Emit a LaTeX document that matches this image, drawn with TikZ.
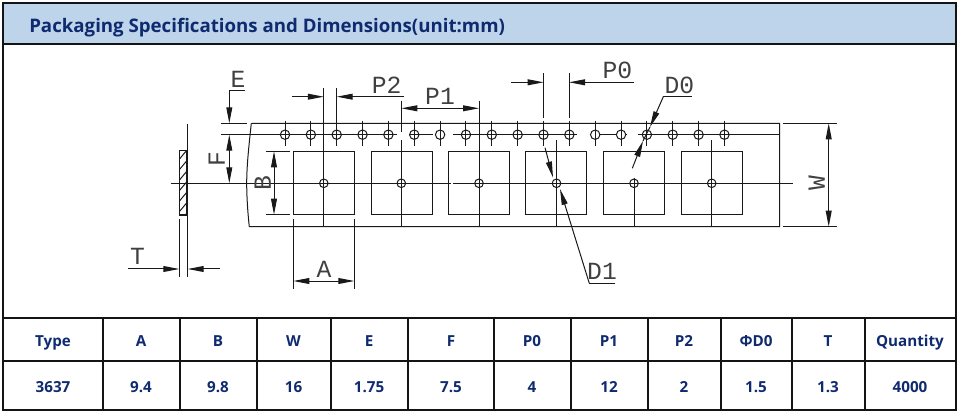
\documentclass[tikz,border=0pt]{standalone}
\usepackage{fontspec}
\setmainfont{Open Sans}
\newfontfamily\cadfont{Liberation Mono}
\usetikzlibrary{arrows.meta}
\definecolor{navy}{HTML}{0F2A6E}
\definecolor{headblue}{HTML}{BDD4EB}
\definecolor{frameblk}{HTML}{141414}
\tikzset{
  frameline/.style={draw=frameblk,line width=1.5pt},
  cell/.style={font=\bfseries\fontsize{11.4pt}{13pt}\selectfont,text=navy,anchor=base,inner sep=0pt},
  cad/.style={line width=0.75pt,draw=black!90},
  dimtip/.style={cad,-{Triangle[length=12pt,width=4.4pt]}},
  dimboth/.style={cad,{Triangle[length=12pt,width=4.4pt]}-{Triangle[length=12pt,width=4.4pt]}},
  cadtext/.style={font=\cadfont\fontsize{18.5pt}{18.5pt}\selectfont,text=black!75,inner sep=0pt,anchor=center},
}
\begin{document}
\begin{tikzpicture}[x=0.75pt,y=-0.75pt]
\useasboundingbox (0,0) rectangle (962,416);
% frame and header
\fill[headblue] (3,3.5) rectangle (955.5,44.5);
\draw[frameline] (3,3.5) rectangle (955.5,410);
\draw[frameline] (3,44.5) -- (955.5,44.5);
\node[font=\bfseries\fontsize{14pt}{16pt}\selectfont,text=navy,anchor=base west,inner sep=0pt] (title) at (29,32.5) {Packaging Specifications and Dimensions(unit:mm)};
% table
\draw[frameline] (3,318) -- (955.5,318) (3,361) -- (955.5,361);
\foreach \x in {102.5,179.5,256.5,330.5,408,494,570.5,647.5,720.5,792,864.5}
  \draw[frameline] (\x,318) -- (\x,410);
\foreach \cx/\nm/\top/\bot in {53/a/Type/3637,141/b/A/9.4,218/c/B/9.8,293.5/d/W/16,369/e/E/1.75,451/f/F/7.5,532/g/P0/4,609/h/P1/12,684/i/P2/2,756/j/ΦD0/1.5,828/k/T/1.3,910/l/Quantity/4000}{
  \node[cell] (top\nm) at (\cx,346) {\top};
  \node[cell] (bot\nm) at (\cx,392) {\bot};
}
% tape
\draw[cad] (251.3,123.3) -- (779.7,123.3) -- (779.7,226.7) -- (249.3,226.7)
  .. controls (247.5,210) and (246.7,195) .. (246.7,183.3)
  .. controls (246.7,165) and (249,145) .. (251.3,123.3);
% sprocket line
\draw[cad] (221,134.7) -- (396.7,134.7) (410,134.7) -- (433,134.7) (453,134.7) -- (577,134.7) (600,134.7) -- (627,134.7) (638,134.7) -- (779.7,134.7);
\draw[cad] (221,123.3) -- (247.3,123.3);
\foreach \k in {0,...,17}{
  \pgfmathsetmacro\hx{285+25.85*\k}
  \draw[cad,fill=white] (\hx,134.7) circle[radius=4.7];
  \draw[cad] (\hx,121) -- (\hx,146);
}
\draw[cad] (280,134.7) -- (290,134.7) (306.5,134.7) -- (316,134.7) (332,134.7) -- (341.5,134.7) (358,134.7) -- (368,134.7) (383.5,134.7) -- (393,134.7) (410,134.7) -- (419,134.7) (461,134.7) -- (471,134.7) (487,134.7) -- (497,134.7) (513,134.7) -- (523,134.7) (539,134.7) -- (549,134.7) (564,134.7) -- (574,134.7) (642,134.7) -- (652,134.7) (668,134.7) -- (678,134.7) (694,134.7) -- (704,134.7) (720,134.7) -- (730,134.7);
% pockets
\foreach \px in {293.3,371,448.7,525.7,603.3,681}
  \draw[cad] (\px,151.3) rectangle ++(61,63.4);
% centre lines
\draw[cad] (170.7,183.3) -- (450.5,183.3) (453,183.3) -- (793,183.3);
\draw[cad] (323.8,88) -- (323.8,226.7);
\draw[cad] (401.3,100.7) -- (401.3,131.7) (401.3,140) -- (401.3,226.7);
\draw[cad] (479,100.7) -- (479,226.7);
\draw[cad] (556.5,140) -- (556.5,226.7);
\draw[cad] (634,178) -- (634,226.7);
\draw[cad] (711.7,140) -- (711.7,226.7);
\foreach \cx in {323.8,401.3,479,556.5,634,711.7}{
  \draw[cad,fill=white] (\cx,183.3) circle[radius=4.3];
  \draw[cad] (\cx-4.3,183.3) -- (\cx+4.3,183.3) (\cx,179) -- (\cx,187.6);
}
% section
\draw[cad,line width=1.2pt] (187.3,124) -- (187.3,226.7);
\draw[cad,line width=1.2pt] (179.5,150.7) rectangle (187,215.3);
\begin{scope}
\clip (179.5,150.7) rectangle (187,215.3);
\foreach \hy in {159,169.5,180,190.5,201,211.5,222}
  \draw[cad] (179.5,\hy) -- (187,\hy-9);
\end{scope}
% T
\coordinate (tl) at (179.3,269); \coordinate (tr) at (187.7,269);
\coordinate (tlo) at (128,269); \coordinate (tro) at (220,269);
\draw[cad] (179.3,219) -- (179.3,276.7) (187.7,219) -- (187.7,276.7);
\draw[dimtip] (tlo) -- (tl);
\draw[dimtip] (tro) -- (tr);
\node[cadtext] (labelT) at (137.5,256.7) {T};
% A
\draw[cad] (293.3,219) -- (293.3,289.3) (354.3,219) -- (354.3,289.3);
\draw[dimboth] (293.3,281) -- (354.3,281);
\node[cadtext] (labelA) at (324,269) {A};
% B
\draw[cad] (266,151.3) -- (290,151.3) (266,214.7) -- (290,214.7);
\draw[dimboth] (274,151.3) -- (274,214.7);
\node[cadtext,rotate=90] (labelB) at (262.7,183.3) {B};
% F
\draw[dimboth] (229.3,134.7) -- (229.3,183.3);
\node[cadtext,rotate=90] (labelF) at (216.7,159.3) {F};
% E
\draw[cad] (244.7,90.7) -- (229.3,90.7);
\draw[dimtip] (229.3,90.7) -- (229.3,123.3);
\node[cadtext] (labelE) at (238,79) {E};
% P2
\draw[cad] (336.7,88) -- (336.7,134.7);
\draw[dimtip] (291.7,96.7) -- (323.8,96.7);
\draw[dimtip] (404.3,96.7) -- (336.7,96.7);
\node[cadtext] (labelPtwo) at (386.7,85) {P2};
% P1
\draw[dimboth] (401.3,108.3) -- (479,108.3);
\node[cadtext] (labelPone) at (440,96) {P1};
% P0
\draw[cad] (543.7,73.3) -- (543.7,118) (569,73.3) -- (569,118);
\draw[dimtip] (511,82.3) -- (543.7,82.3);
\draw[dimtip] (634.3,82.3) -- (569,82.3);
\node[cadtext] (labelPzero) at (617.3,70) {P0};
% D0
\draw[cad] (692,96.7) -- (663.3,96.7);
\draw[dimtip] (663.3,96.7) -- (650,127);
\draw[dimtip] (632.3,168.3) -- (643,141);
\draw[cad] (650,127) -- (643,141);
\node[cadtext] (labelDzero) at (679.3,85) {D0};
% D1
\draw[cad] (615.3,283.3) -- (589.3,283.3);
\draw[dimtip] (589.3,283.3) -- (560,189);
\draw[dimtip] (545,147.7) -- (553,177.5);
\node[cadtext] (labelDone) at (602,271.7) {D1};
% W
\draw[cad] (783.3,123.3) -- (836.7,123.3) (783.3,226.7) -- (836.7,226.7);
\draw[dimboth] (828.7,123.3) -- (828.7,226.7);
\node[cadtext,rotate=90] (labelW) at (816.7,183.3) {W};
\end{tikzpicture}
\end{document}
